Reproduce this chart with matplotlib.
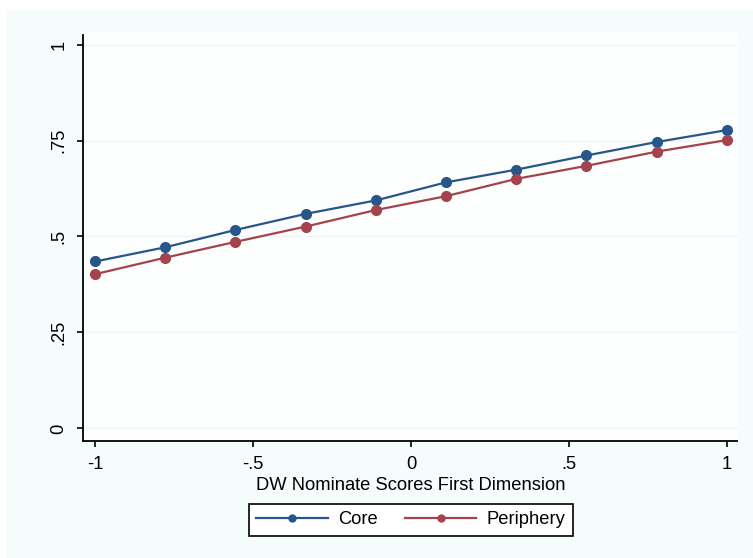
import matplotlib
matplotlib.use("Agg")
import matplotlib.pyplot as plt
from matplotlib.patches import Rectangle
from matplotlib.lines import Line2D

plt.rcParams['font.family'] = ['Liberation Sans', 'DejaVu Sans']

# DW Nominate first-dimension score grid
dw_scores = [-1.0, -0.778, -0.556, -0.333, -0.111, 0.111, 0.333, 0.556, 0.778, 1.0]
# Predicted probabilities by member group
core = [0.435, 0.472, 0.517, 0.559, 0.594, 0.641, 0.674, 0.711, 0.746, 0.777]
periphery = [0.402, 0.445, 0.486, 0.526, 0.569, 0.605, 0.650, 0.684, 0.721, 0.751]

y_ticks = [0, 0.25, 0.5, 0.75, 1]
y_tick_labels = ["0", ".25", ".5", ".75", "1"]
x_ticks = [-1, -0.5, 0, 0.5, 1]
x_tick_labels = ["-1", "-.5", "0", ".5", "1"]
series_names = ["Core", "Periphery"]

CORE_COLOR = "#26568a"
PERI_COLOR = "#a4434b"
OUTER_BG = "#f5fcfc"
FS = 13.2

W, H = 753, 558
fig = plt.figure(figsize=(W / 100, H / 100), dpi=100, facecolor="white")

# outer graph region
fig.patches.append(Rectangle((7 / W, 0), 1 - 7 / W, 1 - 10 / H,
                             transform=fig.transFigure, facecolor=OUTER_BG,
                             edgecolor="none", zorder=-10))

left, right, bottom, top = 83, 738, 441, 32
ax = fig.add_axes([left / W, 1 - bottom / H, (right - left) / W, (bottom - top) / H])
ax.set_zorder(1)
ax.set_facecolor("#fdfefe")

ax.set_xlim(-1.039, 1.036)
ax.set_ylim(-0.0326, 1.0326)

for yv in y_ticks:
    ax.axhline(yv, color="#eef6f7", lw=1.0, zorder=1)

ax.plot(dw_scores, core, color=CORE_COLOR, lw=1.6, marker="o", ms=7,
        zorder=3, label=series_names[0])
ax.plot(dw_scores, periphery, color=PERI_COLOR, lw=1.6, marker="o", ms=7,
        zorder=3, label=series_names[1])

for s in ("top", "right"):
    ax.spines[s].set_visible(False)
for s in ("left", "bottom"):
    ax.spines[s].set_linewidth(1.3)
    ax.spines[s].set_color("black")
ax.spines["left"].set_bounds(-0.0326, 1.025)
ax.spines["bottom"].set_bounds(-1.039, 1.032)

ax.set_yticks(y_ticks)
ax.set_yticklabels(y_tick_labels, rotation=90, va="center")
ax.set_xticks(x_ticks)
ax.set_xticklabels(x_tick_labels)
ax.tick_params(axis="both", direction="out", length=4, width=1.2,
               labelsize=FS, color="black")
ax.tick_params(axis="y", pad=7)
ax.tick_params(axis="x", pad=7)

ax.set_xlabel("DW Nominate Scores First Dimension", fontsize=FS, labelpad=3)

handles = [Line2D([], [], color=CORE_COLOR, lw=1.6, marker="o", ms=5),
           Line2D([], [], color=PERI_COLOR, lw=1.6, marker="o", ms=5)]
leg = fig.legend(handles, series_names, loc="center",
                 bbox_to_anchor=(410.7 / W, 1 - 520 / H), ncol=2,
                 fontsize=FS, frameon=True, fancybox=False,
                 handlelength=3.9, handletextpad=0.55, columnspacing=1.5,
                 borderpad=0.4, borderaxespad=0)
leg.get_frame().set_edgecolor("black")
leg.get_frame().set_linewidth(1.2)
leg.get_frame().set_facecolor("white")
leg.get_frame().set_alpha(1)

fig.savefig("out.png", dpi=100, facecolor=fig.get_facecolor())
